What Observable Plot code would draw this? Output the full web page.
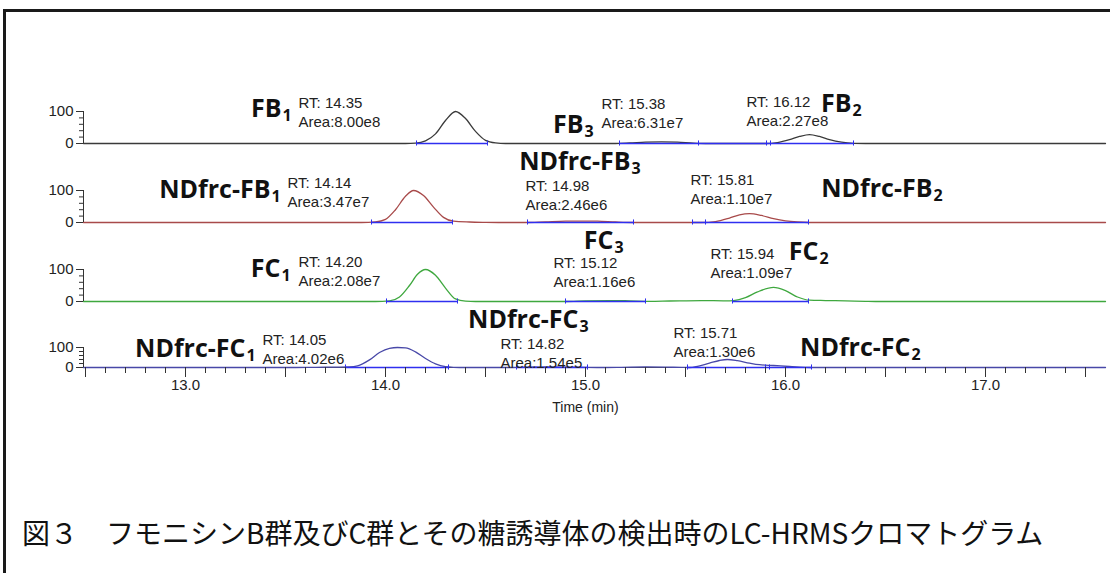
<!DOCTYPE html>
<html>
<head>
<meta charset="utf-8">
<script src="https://cdn.jsdelivr.net/npm/d3@7"></script>
<script src="https://cdn.jsdelivr.net/npm/@observablehq/plot@0.6"></script>
<style>
  html, body { margin: 0; padding: 0; background: #fff; }
  #frame { position: relative; width: 1110px; height: 573px; overflow: hidden; background: #fff; }
  #border { position: absolute; left: 3px; top: 9px; width: 1200px; height: 700px;
            border-left: 3px solid #1a1a1a; border-top: 3px solid #1a1a1a; }
  #caption { position: absolute; left: 22px; top: 517px; font-family: "Noto Sans CJK JP"; font-size: 28px;
             line-height: 30px; color: #111; white-space: nowrap; }
  .panel { position: absolute; left: 0; }
</style>
</head>
<body>
<div id="frame">
  <div id="border"></div>
  <div id="caption">図３　フモニシンB群及びC群とその糖誘導体の検出時のLC-HRMSクロマトグラム</div>
</div>
<script>
// ---------------- data ----------------
const X_DOMAIN = [12.49, 17.6];
const Y_LABELS = [0, 100];
const Y_MINOR = [0, 20, 40, 60, 80, 100];
const X_LABELS = [13, 14, 15, 16, 17];
const X_HALF = [12.5, 13, 13.5, 14, 14.5, 15, 15.5, 16, 16.5, 17, 17.5];
const X_MINOR = d3.range(125, 176).map(d => d / 10);

// FB (black trace)
const fbT = [12.49, 14.10, 14.15, 14.20, 14.25, 14.30, 14.35, 14.40, 14.45, 14.50, 14.55, 14.60,
             15.15, 15.22, 15.30, 15.38, 15.46, 15.54, 15.60,
             15.90, 15.96, 16.02, 16.07, 16.12, 16.17, 16.22, 16.28, 16.34, 16.40, 17.60];
const fbI = [0, 0, 1, 8, 30, 72, 100, 78, 38, 10, 2, 0,
             0, 1.5, 4, 5, 4, 1, 0,
             0, 3, 12, 22, 28, 22, 12, 4, 0.5, 0, 0];
const fbName = ["FB", "FB", "FB"];
const fbSub = ["1", "3", "2"];
const fbRT = [14.35, 15.38, 16.12];
const fbArea = ["8.00e8", "6.31e7", "2.27e8"];
const fbSegs = [[14.155, 14.51], [15.17, 16.34]];
const fbMarks = [14.155, 14.51, 15.17, 15.565, 15.905, 15.925, 16.34];

// NDfrc-FB (red trace)
const ndfbT = [12.49, 13.88, 13.95, 14.00, 14.05, 14.10, 14.14, 14.19, 14.24, 14.29, 14.34, 14.42, 14.50, 14.58,
               14.70, 14.80, 14.90, 14.98, 15.06, 15.15, 15.24,
               15.58, 15.65, 15.72, 15.77, 15.82, 15.88, 15.94, 16.00, 16.06, 16.12, 17.60];
const ndfbI = [0, 0, 2, 10, 40, 82, 100, 84, 48, 16, 4, 1.5, 0.5, 0,
               0, 2, 4, 4.5, 4, 1.5, 0,
               0, 3, 14, 24, 28, 22, 12, 5, 1.5, 0, 0];
const ndfbName = ["NDfrc-FB", "NDfrc-FB", "NDfrc-FB"];
const ndfbSub = ["1", "3", "2"];
const ndfbRT = [14.14, 14.98, 15.81];
const ndfbArea = ["3.47e7", "2.46e6", "1.10e7"];
const ndfbSegs = [[13.93, 14.335], [14.71, 15.24], [15.535, 16.115]];
const ndfbMarks = [13.93, 14.335, 14.71, 15.24, 15.535, 15.6, 16.115];

// FC (green trace)
const fcT = [12.49, 13.95, 14.02, 14.07, 14.12, 14.16, 14.20, 14.25, 14.30, 14.35, 14.40, 14.45,
             14.90, 15.00, 15.12, 15.22, 15.32, 15.42, 15.58, 15.70, 15.74, 15.80, 15.86, 15.94,
             16.00, 16.06, 16.12, 16.20, 16.30, 16.40, 16.45, 17.60];
const fcI = [0, 0, 2, 14, 50, 85, 100, 82, 42, 8, 1, 0,
             0, 2, 3, 2, 0.5, 1.5, 3, 2, 3, 12, 30, 44,
             34, 14, 4, 3, 2, 0.5, 0, 0];
const fcName = ["FC", "FC", "FC"];
const fcSub = ["1", "3", "2"];
const fcRT = [14.20, 15.12, 15.94];
const fcArea = ["2.08e7", "1.16e6", "1.09e7"];
const fcSegs = [[14.005, 14.36], [14.9, 15.3], [15.735, 16.115]];
const fcMarks = [14.005, 14.36, 14.9, 15.3, 15.735, 16.115];

// NDfrc-FC (blue trace)
const ndfcT = [12.49, 13.55, 13.65, 13.75, 13.82, 13.86, 13.92, 13.97, 14.02, 14.06, 14.10, 14.15, 14.20,
               14.25, 14.30, 14.34, 14.40,
               14.62, 14.70, 14.82, 14.92, 15.00, 15.10, 15.18, 15.30, 15.40, 15.48, 15.52,
               15.56, 15.62, 15.67, 15.71, 15.76, 15.82, 15.87, 15.94, 16.02, 16.10, 16.15, 17.60];
const ndfcI = [0, 0, 1, 2, 3, 8, 38, 75, 96, 100, 98, 78, 45,
               18, 4, 1, 0,
               0, 2, 3, 2, 0.5, 0, 1, 3, 2, 0.5, 0,
               6, 22, 35, 40, 34, 22, 14, 10, 5, 1, 0, 0];
const ndfcName = ["NDfrc-FC", "NDfrc-FC", "NDfrc-FC"];
const ndfcSub = ["1", "3", "2"];
const ndfcRT = [14.05, 14.82, 15.71];
const ndfcArea = ["4.02e6", "1.54e5", "1.30e6"];
const ndfcSegs = [[13.80, 14.315], [14.655, 15.01], [15.51, 15.9], [15.9, 16.13]];
const ndfcMarks = [13.80, 14.315, 14.655, 15.01, 15.51, 15.9, 15.92, 16.13];

// ---------------- layout (label anchors in time / intensity units) ----------------
const panels = [
  {T: fbT, I: fbI, color: "#3a3a3a", baseline: 143, h: 32, name: fbName, sub: fbSub, rt: fbRT, area: fbArea,
   segs: fbSegs, marks: fbMarks,
   namePos: [[13.48, 109], [14.99, 57], [16.33, 125]],
   infoPos: [[13.565, 125], [15.08, 122], [15.805, 128]]},
  {T: ndfbT, I: ndfbI, color: "#a84a4a", baseline: 222, h: 32, name: ndfbName, sub: ndfbSub, rt: ndfbRT, area: ndfbArea,
   segs: ndfbSegs, marks: ndfbMarks,
   namePos: [[13.425, 103], [15.225, 190], [16.735, 106]],
   infoPos: [[13.51, 122], [14.70, 112], [15.525, 131]]},
  {T: fcT, I: fcI, color: "#3fa83f", baseline: 301, h: 32, name: fcName, sub: fcSub, rt: fcRT, area: fcArea,
   segs: fcSegs, marks: fcMarks,
   namePos: [[13.475, 103], [15.14, 190], [16.165, 156]],
   infoPos: [[13.565, 122], [14.84, 119], [15.625, 147]]},
  {T: ndfcT, I: ndfcI, color: "#4848a8", baseline: 367, h: 20, name: ndfcName, sub: ndfcSub, rt: ndfcRT, area: ndfcArea,
   segs: ndfcSegs, marks: ndfcMarks, axis: true,
   namePos: [[13.30, 95], [14.965, 240], [16.625, 100]],
   infoPos: [[13.385, 135], [14.575, 118], [15.44, 170]]}
];

const BLUE = "#2f2ff0";
const frame = document.getElementById("frame");

for (const p of panels) {
  const H = p.h;
  const pts = p.T.map((t, k) => ({t, v: p.I[k]}));
  const names = p.name.map((n, k) => ({label: n, sub: p.sub[k], t: p.namePos[k][0], v: p.namePos[k][1]}));
  const infos = p.rt.map((r, k) => ({rt: r, area: p.area[k], t: p.infoPos[k][0], v: p.infoPos[k][1]}));
  const MB = p.axis ? 60 : 8;
  const tickSpan = 8 * 32 / H;
  const marks = [];
  if (p.axis) marks.push(Plot.ruleY([0], {stroke: "#444", strokeWidth: 1.2}));
  marks.push(
    Plot.line(pts, {x: "t", y: "v", stroke: p.color, strokeWidth: 1.3, curve: "monotone-x"}),
    Plot.ruleY(p.segs, {x1: d => d[0], x2: d => d[1], y: 0, stroke: BLUE, strokeWidth: 1.3}),
    Plot.ruleX(p.marks, {x: d => d, y1: -tickSpan, y2: tickSpan, stroke: BLUE, strokeWidth: 1}),
    Plot.ruleX([X_DOMAIN[0]], {y1: 0, y2: 100, stroke: "#333"}),
    Plot.axisY({ticks: Y_MINOR, tickSize: 4, tickFormat: () => "", label: null, stroke: "#333"}),
    Plot.axisY({ticks: Y_LABELS, tickSize: 7, tickPadding: 3, fontSize: 15, fill: "#222", label: null, stroke: "#333"}),
    Plot.text(names, {x: "t", y: "v", text: "label", textAnchor: "end", fontFamily: "Open Sans",
                      fontWeight: 700, fontSize: 25, fill: "#111"}),
    Plot.text(names, {x: "t", y: "v", text: "sub", textAnchor: "start", dx: 1, dy: 7, fontFamily: "Open Sans",
                      fontWeight: 700, fontSize: 16, fill: "#111"}),
    Plot.text(infos, {x: "t", y: "v", text: d => "RT: " + d.rt.toFixed(2), textAnchor: "start",
                      fontFamily: "Liberation Sans", fontSize: 15, fill: "#222"}),
    Plot.text(infos, {x: "t", y: "v", text: d => "Area:" + d.area, textAnchor: "start", dy: 19,
                      fontFamily: "Liberation Sans", fontSize: 15, fill: "#222"})
  );
  if (p.axis) {
    marks.push(
      Plot.axisX({ticks: X_MINOR, tickSize: 6, tickFormat: () => "", label: null, stroke: "#333"}),
      Plot.axisX({ticks: X_HALF, tickSize: 10, tickFormat: () => "", label: null, stroke: "#333"}),
      Plot.axisX({ticks: X_LABELS, tickSize: 0, tickPadding: 12, tickFormat: d3.format(".1f"),
                  fontSize: 15, fill: "#222", label: null}),
      Plot.text(["Time (min)"], {x: 15.0, y: 0, dy: 40, fontFamily: "Liberation Sans", fontSize: 14, fill: "#222"})
    );
  }
  const svg = Plot.plot({
    width: 1110, height: H + MB,
    marginTop: 0, marginBottom: MB, marginLeft: 83, marginRight: 5,
    style: {overflow: "visible", background: "transparent", fontFamily: "Liberation Sans"},
    x: {domain: X_DOMAIN, axis: null, label: null},
    y: {domain: [0, 100], axis: null, label: null},
    marks
  });
  svg.classList.add("panel");
  svg.style.top = (p.baseline - H) + "px";
  frame.appendChild(svg);
}
</script>
</body>
</html>
